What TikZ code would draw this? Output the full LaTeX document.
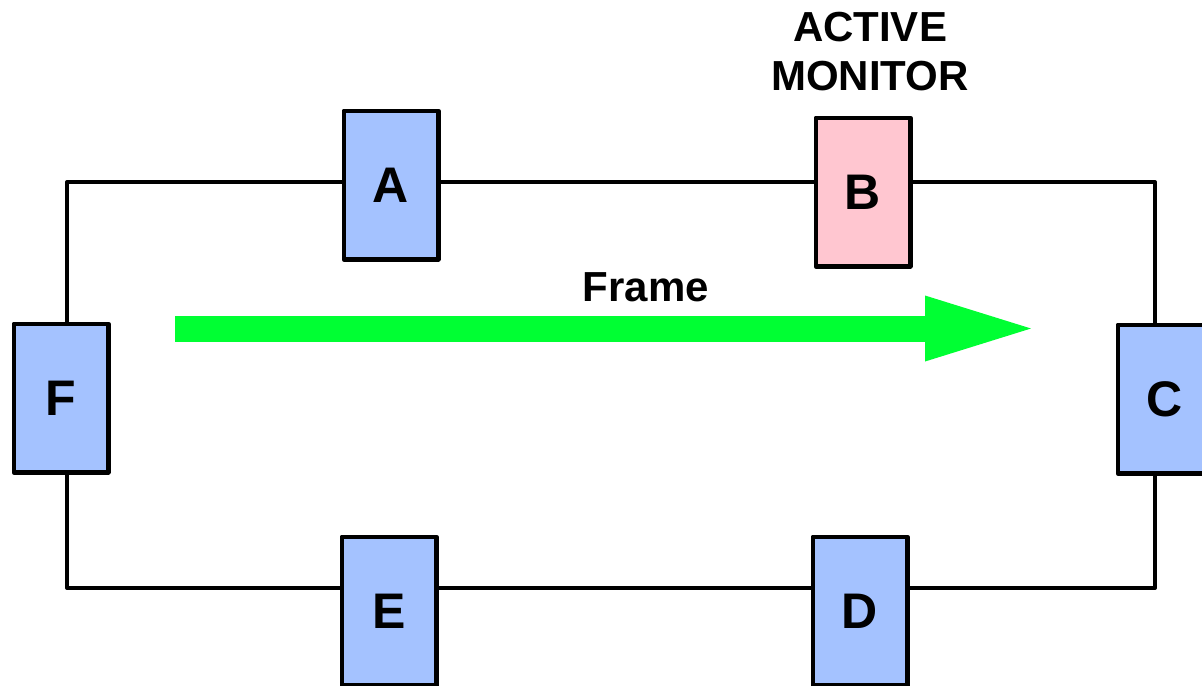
\documentclass[tikz,border=0pt]{standalone}
\usepackage{fontspec}
\setmainfont{Liberation Sans}
\usetikzlibrary{arrows.meta,positioning}
\definecolor{stationblue}{RGB}{164,194,255}
\definecolor{monitorpink}{RGB}{255,198,208}
\definecolor{framegreen}{RGB}{0,255,51}

\begin{document}
\begin{tikzpicture}[x=0.5pt,y=-0.5pt,
    station/.style={rectangle,draw,line width=2.2pt,line join=round,fill=stationblue,inner sep=0pt,
      minimum width=47.3pt,minimum height=74.3pt,font=\fontsize{25}{30}\selectfont\bfseries},
    ring/.style={line width=2pt,line join=round},
    label/.style={font=\fontsize{21}{24.5}\selectfont\bfseries,align=center},
    flow/.style={draw=framegreen,line width=13pt,-{Triangle[length=53pt,width=33pt,line width=0pt]}}
    ]
    \useasboundingbox (0,0) rectangle (1202,685);

    % ring corners
    \coordinate (tl) at (67,182);
    \coordinate (tr) at (1155,182);
    \coordinate (br) at (1155,588);
    \coordinate (bl) at (67,588);
    \draw[ring] (tl) -- (tr) -- (br) -- (bl) -- cycle;

    \node (A) [station] at (391,185) {A};
    \node (B) [station,fill=monitorpink] at (863,192) {B};
    \node (C) [station] at (1165,399) {C};
    \node (D) [station] at (860,611) {D};
    \node (E) [station] at (389,611) {E};
    \node (F) [station] at (61,398) {F};

    \node (am) [label] at (870,52) {ACTIVE\\MONITOR};

    \coordinate (fs) at (175,328.5);
    \coordinate (fe) at (1031,328.5);
    \draw[flow] (fs) -- (fe);
    \node (frame) [label] at (646,287) {Frame};

  \end{tikzpicture}
\end{document}
